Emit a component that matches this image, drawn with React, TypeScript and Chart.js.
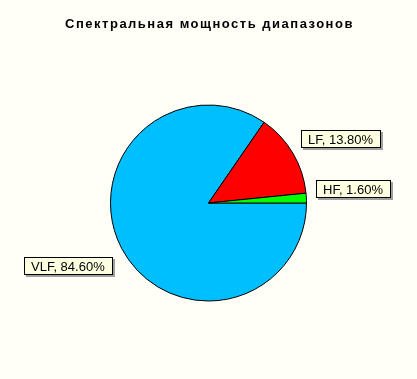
import React, { useEffect, useRef } from "react";
import { Chart, registerables } from "chart.js";

Chart.register(...registerables);

const bands = ["VLF", "LF", "HF"];
const powerShare = [84.6, 13.8, 1.6];
const sliceColors = ["#00BFFF", "#FF0000", "#00FF00"];
const titleText = "Спектральная мощность диапазонов";

const BG = "#FFFFF7";

const titlePlugin = {
  id: "spacedTitle",
  afterDraw(chart: any) {
    const ctx = chart.ctx as CanvasRenderingContext2D;
    ctx.save();
    ctx.font = "bold 13px 'Liberation Sans', Arial, sans-serif";
    (ctx as any).letterSpacing = "1.5px";
    ctx.fillStyle = "#000";
    ctx.textAlign = "center";
    ctx.textBaseline = "middle";
    ctx.fillText(titleText, chart.width / 2 + 1, 24);
    ctx.restore();
  },
};

const sliceLabelPlugin = {
  id: "sliceLabels",
  afterDatasetsDraw(chart: any) {
    const ctx = chart.ctx as CanvasRenderingContext2D;
    const meta = chart.getDatasetMeta(0);
    ctx.save();
    ctx.font = "13px 'Liberation Sans', Arial, sans-serif";
    ctx.textBaseline = "middle";
    ctx.textAlign = "left";
    meta.data.forEach((arc: any, i: number) => {
      const { x, y, startAngle, endAngle, outerRadius } = arc.getProps(
        ["x", "y", "startAngle", "endAngle", "outerRadius"],
        true
      );
      const mid = (startAngle + endAngle) / 2;
      const ax = x + Math.cos(mid) * (outerRadius + 10);
      const ay = y + Math.sin(mid) * (outerRadius + 10);
      const text = `${bands[i]}, ${powerShare[i].toFixed(2)}%`;
      const tw = ctx.measureText(text).width;
      const w = Math.round(tw + 15);
      const h = 18;
      const right = Math.cos(mid) >= 0;
      const lower = Math.sin(mid) > 0.2;
      const bx = Math.round(right ? ax : ax - w);
      const by = Math.round(lower ? ay + 4 : ay - h);
      // drop shadow
      ctx.fillStyle = "#A0A0A0";
      ctx.fillRect(bx + 2, by + 2, w, h);
      // box
      ctx.fillStyle = "#FFFFE1";
      ctx.fillRect(bx, by, w, h);
      ctx.strokeStyle = "#000";
      ctx.lineWidth = 1;
      ctx.strokeRect(bx + 0.5, by + 0.5, w - 1, h - 1);
      ctx.fillStyle = "#000";
      ctx.fillText(text, bx + 7, by + h / 2 + 1);
    });
    ctx.restore();
  },
};

const bgPlugin = {
  id: "bg",
  beforeDraw(chart: any) {
    const ctx = chart.ctx as CanvasRenderingContext2D;
    ctx.save();
    ctx.fillStyle = BG;
    ctx.fillRect(0, 0, chart.width, chart.height);
    ctx.restore();
  },
};

export default function App() {
  const canvasRef = useRef<HTMLCanvasElement | null>(null);

  useEffect(() => {
    const canvas = canvasRef.current;
    if (!canvas) return;
    const chart = new Chart(canvas, {
      type: "pie",
      data: {
        labels: bands,
        datasets: [
          {
            data: powerShare,
            backgroundColor: sliceColors,
            borderColor: "#000",
            borderWidth: 1,
          },
        ],
      },
      options: {
        responsive: false,
        animation: false,
        rotation: 90,
        layout: { padding: { left: 110, right: 110, top: 104, bottom: 77 } },
        plugins: {
          legend: { display: false },
          title: { display: false },
          tooltip: { enabled: false },
        },
      },
      plugins: [bgPlugin, sliceLabelPlugin, titlePlugin],
    });
    return () => chart.destroy();
  }, []);

  return (
    <div
      style={{
        position: "fixed",
        left: 0,
        top: 0,
        width: 417,
        height: 379,
        background: BG,
      }}
    >
      <canvas ref={canvasRef} width={417} height={379} />
    </div>
  );
}
